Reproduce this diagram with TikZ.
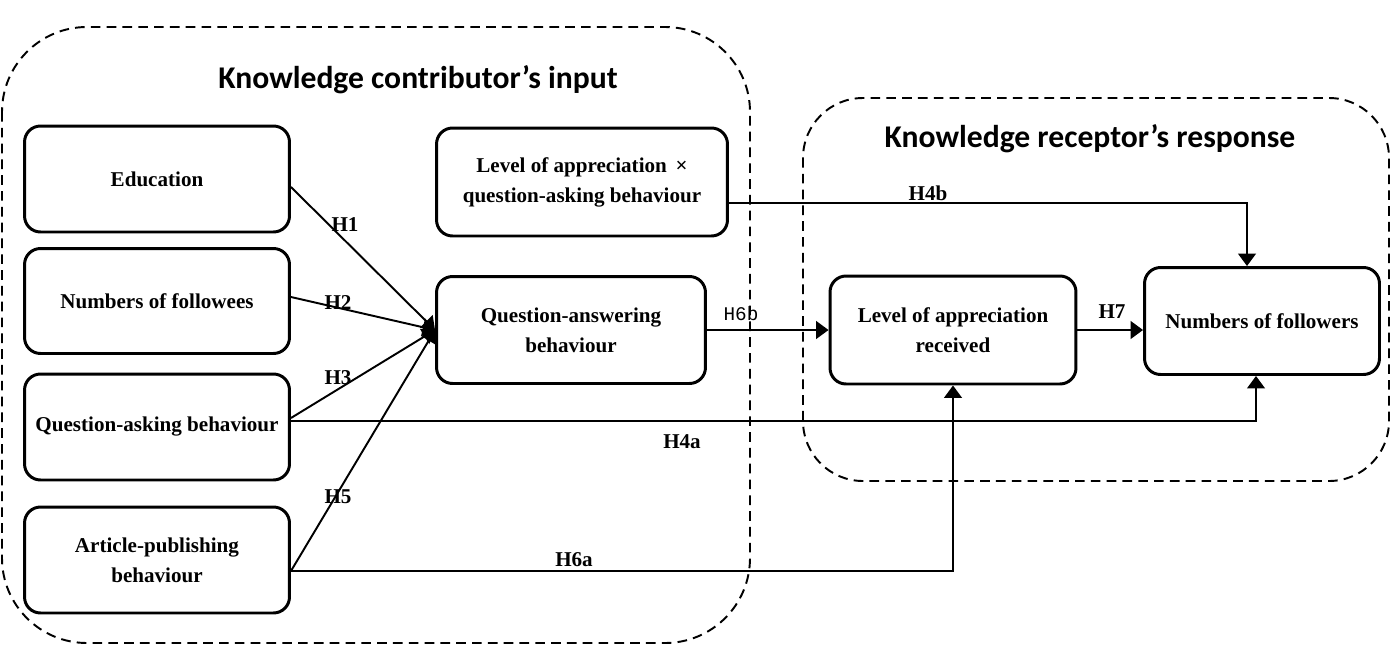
\documentclass[tikz,border=0pt]{standalone}
\usepackage{fontspec}
\setmainfont{Liberation Serif}
\newfontfamily\titlefont{Carlito}
\newfontfamily\thinfont{Liberation Mono}
\usetikzlibrary{arrows.meta, positioning}

\begin{document}
\begin{tikzpicture}[x=0.02cm, y=-0.02cm]
    \tikzstyle{box} = [rectangle, draw=black, line width=1.7pt, rounded corners=0.32cm, align=center, font=\bfseries\fontsize{12}{17}\selectfont]
    \tikzstyle{region} = [draw=black, line width=1.1pt, dash pattern=on 5.5pt off 3.5pt]
    \tikzstyle{arrow} = [line width=1.1pt, -{Triangle[length=7pt, width=10pt]}]
    \tikzstyle{hyp} = [font=\bfseries\fontsize{12}{14}\selectfont]
    \tikzstyle{heading} = [font=\titlefont\bfseries\fontsize{18}{21}\selectfont]

    \useasboundingbox (0,0) rectangle (1392,656);

    % dashed groups
    \draw[region, rounded corners=1.7cm] (2,27) rectangle (750,643);
    \draw[region, rounded corners=1.2cm] (803,98) rectangle (1389,481);
    \node[heading] (intitle) at (418,80) {Knowledge contributor’s input};
    \node[heading] (outtitle) at (1090,139) {Knowledge receptor’s response};

    \node[box, minimum width=5.3cm, minimum height=2.12cm] (edu) at (157,179) {Education};
    \node[box, minimum width=5.3cm, minimum height=2.1cm] (fee) at (157,301) {Numbers of followees};
    \node[box, minimum width=5.3cm, minimum height=2.12cm] (qask) at (157,427) {Question-asking behaviour};
    \node[box, minimum width=5.3cm, minimum height=2.12cm] (art) at (157,560) {Article-publishing\\behaviour};
    \node[box, minimum width=5.82cm, minimum height=2.16cm] (inter) at (582,182) {Level of appreciation \,×\\question-asking behaviour};
    \node[box, minimum width=5.38cm, minimum height=2.14cm] (qa) at (571,330) {Question-answering\\behaviour};
    \node[box, minimum width=4.92cm, minimum height=2.16cm] (lar) at (953,330) {Level of appreciation\\received};
    \node[box, minimum width=4.7cm, minimum height=2.14cm] (fol) at (1262,321) {Numbers of followers};

    \draw[arrow] ([yshift=-0.16cm]edu.east) -- (qa.west);
    \draw[arrow] ([yshift=0.08cm]fee.east) -- (qa.west);
    \draw[arrow] ([yshift=0.18cm]qask.east) -- (qa.west);
    \draw[arrow] ([yshift=-0.22cm]art.east) -- (qa.west);
    \draw[arrow] (qa) -- (lar);
    \draw[arrow] (lar) -- (lar -| fol.west);
    \draw[arrow] ([yshift=0.12cm]qask.east) -| ([xshift=-0.12cm]fol.south);
    \draw[arrow] ([yshift=-0.22cm]art.east) -| (lar.south);
    \draw[arrow] ([yshift=-0.42cm]inter.east) -| ([xshift=-0.3cm]fol.north);

    \node[hyp] (h1) at (345,225) {H1};
    \node[hyp] (h2) at (338,303) {H2};
    \node[hyp] (h3) at (338,378) {H3};
    \node[hyp] (h5) at (338,497) {H5};
    \node[hyp] (h6a) at (574,560) {H6a};
    \node[hyp] (h4a) at (682,442) {H4a};
    \node[font=\thinfont\fontsize{11}{13}\selectfont] (h6b) at (741,314) {H6b};
    \node[hyp] (h7) at (1112,312) {H7};
    \node[hyp] (h4b) at (928,193) {H4b};
\end{tikzpicture}
\end{document}
